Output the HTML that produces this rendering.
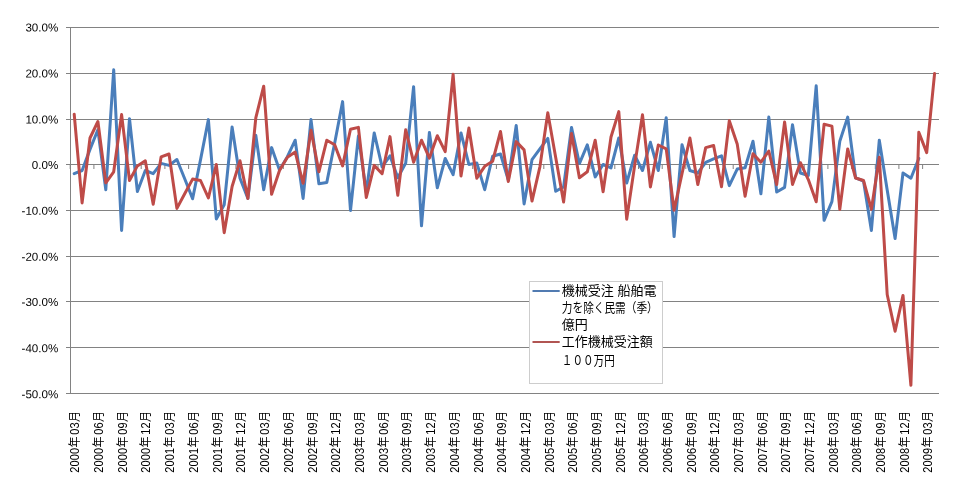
<!DOCTYPE html>
<html><head><meta charset="utf-8"><title>chart</title>
<style>
html,body{margin:0;padding:0;background:#fff;}
body{width:972px;height:502px;overflow:hidden;font-family:"Liberation Sans",sans-serif;}
svg{display:block;will-change:transform;}
.yl{font-family:"Liberation Sans",sans-serif;font-size:11.6px;fill:#000;text-anchor:end;}
.xl{font-family:"Liberation Sans","Noto Sans CJK JP",sans-serif;font-size:12px;fill:#000;}
.lg{font-family:"Liberation Sans","Noto Sans CJK JP",sans-serif;font-size:13px;fill:#000;}
</style></head><body>
<svg width="972" height="502" viewBox="0 0 972 502">
<rect width="972" height="502" fill="#fff"/>

<g fill="#828282">
<rect x="66" y="27" width="873" height="1"/>
<rect x="66" y="73" width="873" height="1"/>
<rect x="66" y="119" width="873" height="1"/>
<rect x="66" y="164" width="873" height="1"/>
<rect x="66" y="210" width="873" height="1"/>
<rect x="66" y="256" width="873" height="1"/>
<rect x="66" y="301" width="873" height="1"/>
<rect x="66" y="347" width="873" height="1"/>
<rect x="66" y="393" width="873" height="1"/>
<rect x="70" y="27" width="1" height="367"/>
<rect x="69.7" y="165" width="1" height="4"/>
<rect x="93.4" y="165" width="1" height="4"/>
<rect x="117.1" y="165" width="1" height="4"/>
<rect x="140.7" y="165" width="1" height="4"/>
<rect x="164.4" y="165" width="1" height="4"/>
<rect x="188.1" y="165" width="1" height="4"/>
<rect x="211.8" y="165" width="1" height="4"/>
<rect x="235.4" y="165" width="1" height="4"/>
<rect x="259.1" y="165" width="1" height="4"/>
<rect x="282.8" y="165" width="1" height="4"/>
<rect x="306.5" y="165" width="1" height="4"/>
<rect x="330.2" y="165" width="1" height="4"/>
<rect x="353.8" y="165" width="1" height="4"/>
<rect x="377.5" y="165" width="1" height="4"/>
<rect x="401.2" y="165" width="1" height="4"/>
<rect x="424.9" y="165" width="1" height="4"/>
<rect x="448.6" y="165" width="1" height="4"/>
<rect x="472.2" y="165" width="1" height="4"/>
<rect x="495.9" y="165" width="1" height="4"/>
<rect x="519.6" y="165" width="1" height="4"/>
<rect x="543.3" y="165" width="1" height="4"/>
<rect x="566.9" y="165" width="1" height="4"/>
<rect x="590.6" y="165" width="1" height="4"/>
<rect x="614.3" y="165" width="1" height="4"/>
<rect x="638.0" y="165" width="1" height="4"/>
<rect x="661.7" y="165" width="1" height="4"/>
<rect x="685.3" y="165" width="1" height="4"/>
<rect x="709.0" y="165" width="1" height="4"/>
<rect x="732.7" y="165" width="1" height="4"/>
<rect x="756.4" y="165" width="1" height="4"/>
<rect x="780.0" y="165" width="1" height="4"/>
<rect x="803.7" y="165" width="1" height="4"/>
<rect x="827.4" y="165" width="1" height="4"/>
<rect x="851.1" y="165" width="1" height="4"/>
<rect x="874.8" y="165" width="1" height="4"/>
<rect x="898.4" y="165" width="1" height="4"/>
<rect x="922.1" y="165" width="1" height="4"/>
</g>
<polyline fill="none" stroke="#4a7ebb" stroke-width="3" stroke-linejoin="round" stroke-linecap="round" points="74.2,173.7 82.1,170.5 90.0,149.4 97.9,129.7 105.8,189.7 113.7,69.8 121.6,230.4 129.5,118.7 137.4,191.5 145.3,170.5 153.2,173.7 161.1,163.4 169.0,165.4 176.9,159.5 184.7,178.7 192.6,198.8 200.5,159.9 208.4,119.6 216.3,219.0 224.2,204.8 232.1,127.0 240.0,178.2 247.9,198.4 255.8,135.2 263.7,189.7 271.6,147.6 279.5,170.0 287.4,156.7 295.2,140.2 303.1,198.4 311.0,119.6 318.9,183.7 326.8,182.4 334.7,143.0 342.6,101.6 350.5,210.5 358.4,136.1 366.3,192.0 374.2,132.9 382.1,166.8 390.0,155.8 397.8,177.8 405.7,163.1 413.6,86.7 421.5,225.8 429.4,132.5 437.3,187.8 445.2,158.5 453.1,174.6 461.0,132.9 468.9,164.5 476.8,162.9 484.7,189.7 492.6,156.3 500.5,154.0 508.3,180.1 516.2,125.4 524.1,203.9 532.0,159.7 539.9,148.9 547.8,138.4 555.7,191.3 563.6,186.9 571.5,127.4 579.4,163.6 587.3,144.8 595.2,176.9 603.1,164.5 611.0,167.9 618.8,138.0 626.7,183.0 634.6,155.3 642.5,170.5 650.4,142.3 658.3,170.5 666.2,117.8 674.1,236.6 682.0,144.8 689.9,170.5 697.8,173.0 705.7,162.4 713.6,158.8 721.5,155.8 729.3,185.6 737.2,169.1 745.1,167.7 753.0,141.2 760.9,193.8 768.8,117.1 776.7,192.0 784.6,187.4 792.5,124.7 800.4,173.0 808.3,175.5 816.2,85.8 824.1,220.3 831.9,201.6 839.8,141.2 847.7,117.1 855.6,177.8 863.5,181.0 871.4,230.4 879.3,140.2 887.2,190.1 895.1,238.6 903.0,173.0 910.9,178.2 918.8,158.5"/>
<polyline fill="none" stroke="#be4b48" stroke-width="3" stroke-linejoin="round" stroke-linecap="round" points="74.2,114.2 82.1,202.9 90.0,138.0 97.9,121.5 105.8,182.8 113.7,171.8 121.6,114.6 129.5,180.5 137.4,165.9 145.3,160.8 153.2,204.3 161.1,156.9 169.0,154.0 176.9,208.4 184.7,193.8 192.6,179.1 200.5,180.5 208.4,197.9 216.3,164.5 224.2,232.7 232.1,186.5 240.0,160.8 247.9,198.4 255.8,117.8 263.7,86.2 271.6,194.3 279.5,170.5 287.4,157.2 295.2,152.1 303.1,183.3 311.0,130.2 318.9,171.8 326.8,140.2 334.7,144.8 342.6,165.9 350.5,129.3 358.4,127.4 366.3,197.5 374.2,165.4 382.1,173.7 390.0,136.6 397.8,195.2 405.7,129.7 413.6,162.2 421.5,140.2 429.4,158.1 437.3,135.7 445.2,151.7 453.1,74.3 461.0,175.9 468.9,127.9 476.8,178.2 484.7,166.3 492.6,161.3 500.5,131.5 508.3,181.4 516.2,141.6 524.1,149.9 532.0,201.1 539.9,166.8 547.8,112.8 555.7,157.6 563.6,202.0 571.5,133.6 579.4,177.8 587.3,171.8 595.2,140.2 603.1,191.7 611.0,137.0 618.8,111.6 626.7,219.2 634.6,165.9 642.5,114.8 650.4,186.9 658.3,145.0 666.2,148.9 674.1,210.3 682.0,173.7 689.9,138.0 697.8,184.6 705.7,147.6 713.6,145.5 721.5,186.7 729.3,120.8 737.2,143.9 745.1,196.3 753.0,153.7 760.9,162.2 768.8,151.0 776.7,184.6 784.6,121.9 792.5,184.4 800.4,162.7 808.3,179.6 816.2,201.8 824.1,124.2 831.9,126.1 839.8,209.4 847.7,148.9 855.6,178.0 863.5,180.5 871.4,209.4 879.3,157.2 887.2,294.5 895.1,331.3 903.0,295.4 910.9,385.3 918.8,132.2 926.7,152.6 934.6,73.4"/>
<text class="yl" transform="matrix(1 0.0005 0 1 0 0)" x="58.3" y="31.6">30.0%</text>
<text class="yl" transform="matrix(1 0.0005 0 1 0 0)" x="58.3" y="77.6">20.0%</text>
<text class="yl" transform="matrix(1 0.0005 0 1 0 0)" x="58.3" y="123.6">10.0%</text>
<text class="yl" transform="matrix(1 0.0005 0 1 0 0)" x="58.3" y="169.1">0.0%</text>
<text class="yl" transform="matrix(1 0.0005 0 1 0 0)" x="58.3" y="214.7">-10.0%</text>
<text class="yl" transform="matrix(1 0.0005 0 1 0 0)" x="58.3" y="260.8">-20.0%</text>
<text class="yl" transform="matrix(1 0.0005 0 1 0 0)" x="58.3" y="306.1">-30.0%</text>
<text class="yl" transform="matrix(1 0.0005 0 1 0 0)" x="58.3" y="352.2">-40.0%</text>
<text class="yl" transform="matrix(1 0.0005 0 1 0 0)" x="58.3" y="398.3">-50.0%</text>
<g fill="#000">
<g transform="translate(79.15,473.0) rotate(-90)">
<title>2000年03月</title>
<text class="xl" transform="scale(0.92,1)" x="0.33 7.12 13.91 20.71 27.8 41.63 48.42 55.4" y="0">2000年03月</text>
</g>
<g transform="translate(102.88,473.0) rotate(-90)">
<title>2000年06月</title>
<text class="xl" transform="scale(0.92,1)" x="0.33 7.12 13.91 20.71 27.8 41.63 48.42 55.4" y="0">2000年06月</text>
</g>
<g transform="translate(126.62,473.0) rotate(-90)">
<title>2000年09月</title>
<text class="xl" transform="scale(0.92,1)" x="0.33 7.12 13.91 20.71 27.8 41.63 48.42 55.4" y="0">2000年09月</text>
</g>
<g transform="translate(150.36,473.0) rotate(-90)">
<title>2000年12月</title>
<text class="xl" transform="scale(0.92,1)" x="0.33 7.12 13.91 20.71 27.8 41.63 48.42 55.4" y="0">2000年12月</text>
</g>
<g transform="translate(174.10,473.0) rotate(-90)">
<title>2001年03月</title>
<text class="xl" transform="scale(0.92,1)" x="0.33 7.12 13.91 20.71 27.8 41.63 48.42 55.4" y="0">2001年03月</text>
</g>
<g transform="translate(197.84,473.0) rotate(-90)">
<title>2001年06月</title>
<text class="xl" transform="scale(0.92,1)" x="0.33 7.12 13.91 20.71 27.8 41.63 48.42 55.4" y="0">2001年06月</text>
</g>
<g transform="translate(221.58,473.0) rotate(-90)">
<title>2001年09月</title>
<text class="xl" transform="scale(0.92,1)" x="0.33 7.12 13.91 20.71 27.8 41.63 48.42 55.4" y="0">2001年09月</text>
</g>
<g transform="translate(245.31,473.0) rotate(-90)">
<title>2001年12月</title>
<text class="xl" transform="scale(0.92,1)" x="0.33 7.12 13.91 20.71 27.8 41.63 48.42 55.4" y="0">2001年12月</text>
</g>
<g transform="translate(269.05,473.0) rotate(-90)">
<title>2002年03月</title>
<text class="xl" transform="scale(0.92,1)" x="0.33 7.12 13.91 20.71 27.8 41.63 48.42 55.4" y="0">2002年03月</text>
</g>
<g transform="translate(292.79,473.0) rotate(-90)">
<title>2002年06月</title>
<text class="xl" transform="scale(0.92,1)" x="0.33 7.12 13.91 20.71 27.8 41.63 48.42 55.4" y="0">2002年06月</text>
</g>
<g transform="translate(316.53,473.0) rotate(-90)">
<title>2002年09月</title>
<text class="xl" transform="scale(0.92,1)" x="0.33 7.12 13.91 20.71 27.8 41.63 48.42 55.4" y="0">2002年09月</text>
</g>
<g transform="translate(340.27,473.0) rotate(-90)">
<title>2002年12月</title>
<text class="xl" transform="scale(0.92,1)" x="0.33 7.12 13.91 20.71 27.8 41.63 48.42 55.4" y="0">2002年12月</text>
</g>
<g transform="translate(364.00,473.0) rotate(-90)">
<title>2003年03月</title>
<text class="xl" transform="scale(0.92,1)" x="0.33 7.12 13.91 20.71 27.8 41.63 48.42 55.4" y="0">2003年03月</text>
</g>
<g transform="translate(387.74,473.0) rotate(-90)">
<title>2003年06月</title>
<text class="xl" transform="scale(0.92,1)" x="0.33 7.12 13.91 20.71 27.8 41.63 48.42 55.4" y="0">2003年06月</text>
</g>
<g transform="translate(411.48,473.0) rotate(-90)">
<title>2003年09月</title>
<text class="xl" transform="scale(0.92,1)" x="0.33 7.12 13.91 20.71 27.8 41.63 48.42 55.4" y="0">2003年09月</text>
</g>
<g transform="translate(435.22,473.0) rotate(-90)">
<title>2003年12月</title>
<text class="xl" transform="scale(0.92,1)" x="0.33 7.12 13.91 20.71 27.8 41.63 48.42 55.4" y="0">2003年12月</text>
</g>
<g transform="translate(458.90,473.0) rotate(-90)">
<title>2004年03月</title>
<text class="xl" transform="scale(0.92,1)" x="0.33 7.12 13.91 20.71 27.8 41.63 48.42 55.4" y="0">2004年03月</text>
</g>
<g transform="translate(482.58,473.0) rotate(-90)">
<title>2004年06月</title>
<text class="xl" transform="scale(0.92,1)" x="0.33 7.12 13.91 20.71 27.8 41.63 48.42 55.4" y="0">2004年06月</text>
</g>
<g transform="translate(506.25,473.0) rotate(-90)">
<title>2004年09月</title>
<text class="xl" transform="scale(0.92,1)" x="0.33 7.12 13.91 20.71 27.8 41.63 48.42 55.4" y="0">2004年09月</text>
</g>
<g transform="translate(529.93,473.0) rotate(-90)">
<title>2004年12月</title>
<text class="xl" transform="scale(0.92,1)" x="0.33 7.12 13.91 20.71 27.8 41.63 48.42 55.4" y="0">2004年12月</text>
</g>
<g transform="translate(553.61,473.0) rotate(-90)">
<title>2005年03月</title>
<text class="xl" transform="scale(0.92,1)" x="0.33 7.12 13.91 20.71 27.8 41.63 48.42 55.4" y="0">2005年03月</text>
</g>
<g transform="translate(577.29,473.0) rotate(-90)">
<title>2005年06月</title>
<text class="xl" transform="scale(0.92,1)" x="0.33 7.12 13.91 20.71 27.8 41.63 48.42 55.4" y="0">2005年06月</text>
</g>
<g transform="translate(600.97,473.0) rotate(-90)">
<title>2005年09月</title>
<text class="xl" transform="scale(0.92,1)" x="0.33 7.12 13.91 20.71 27.8 41.63 48.42 55.4" y="0">2005年09月</text>
</g>
<g transform="translate(624.64,473.0) rotate(-90)">
<title>2005年12月</title>
<text class="xl" transform="scale(0.92,1)" x="0.33 7.12 13.91 20.71 27.8 41.63 48.42 55.4" y="0">2005年12月</text>
</g>
<g transform="translate(648.32,473.0) rotate(-90)">
<title>2006年03月</title>
<text class="xl" transform="scale(0.92,1)" x="0.33 7.12 13.91 20.71 27.8 41.63 48.42 55.4" y="0">2006年03月</text>
</g>
<g transform="translate(672.00,473.0) rotate(-90)">
<title>2006年06月</title>
<text class="xl" transform="scale(0.92,1)" x="0.33 7.12 13.91 20.71 27.8 41.63 48.42 55.4" y="0">2006年06月</text>
</g>
<g transform="translate(695.68,473.0) rotate(-90)">
<title>2006年09月</title>
<text class="xl" transform="scale(0.92,1)" x="0.33 7.12 13.91 20.71 27.8 41.63 48.42 55.4" y="0">2006年09月</text>
</g>
<g transform="translate(719.36,473.0) rotate(-90)">
<title>2006年12月</title>
<text class="xl" transform="scale(0.92,1)" x="0.33 7.12 13.91 20.71 27.8 41.63 48.42 55.4" y="0">2006年12月</text>
</g>
<g transform="translate(743.04,473.0) rotate(-90)">
<title>2007年03月</title>
<text class="xl" transform="scale(0.92,1)" x="0.33 7.12 13.91 20.71 27.8 41.63 48.42 55.4" y="0">2007年03月</text>
</g>
<g transform="translate(766.71,473.0) rotate(-90)">
<title>2007年06月</title>
<text class="xl" transform="scale(0.92,1)" x="0.33 7.12 13.91 20.71 27.8 41.63 48.42 55.4" y="0">2007年06月</text>
</g>
<g transform="translate(790.39,473.0) rotate(-90)">
<title>2007年09月</title>
<text class="xl" transform="scale(0.92,1)" x="0.33 7.12 13.91 20.71 27.8 41.63 48.42 55.4" y="0">2007年09月</text>
</g>
<g transform="translate(814.07,473.0) rotate(-90)">
<title>2007年12月</title>
<text class="xl" transform="scale(0.92,1)" x="0.33 7.12 13.91 20.71 27.8 41.63 48.42 55.4" y="0">2007年12月</text>
</g>
<g transform="translate(837.75,473.0) rotate(-90)">
<title>2008年03月</title>
<text class="xl" transform="scale(0.92,1)" x="0.33 7.12 13.91 20.71 27.8 41.63 48.42 55.4" y="0">2008年03月</text>
</g>
<g transform="translate(861.43,473.0) rotate(-90)">
<title>2008年06月</title>
<text class="xl" transform="scale(0.92,1)" x="0.33 7.12 13.91 20.71 27.8 41.63 48.42 55.4" y="0">2008年06月</text>
</g>
<g transform="translate(885.10,473.0) rotate(-90)">
<title>2008年09月</title>
<text class="xl" transform="scale(0.92,1)" x="0.33 7.12 13.91 20.71 27.8 41.63 48.42 55.4" y="0">2008年09月</text>
</g>
<g transform="translate(908.78,473.0) rotate(-90)">
<title>2008年12月</title>
<text class="xl" transform="scale(0.92,1)" x="0.33 7.12 13.91 20.71 27.8 41.63 48.42 55.4" y="0">2008年12月</text>
</g>
<g transform="translate(932.46,473.0) rotate(-90)">
<title>2009年03月</title>
<text class="xl" transform="scale(0.92,1)" x="0.33 7.12 13.91 20.71 27.8 41.63 48.42 55.4" y="0">2009年03月</text>
</g>
</g>
<rect x="529.5" y="281.5" width="133" height="102" fill="#fff" stroke="#cdcdcd" stroke-width="1"/>
<line x1="532.5" y1="291" x2="559.7" y2="291" stroke="#4874ad" stroke-width="1.9"/>
<line x1="532.5" y1="342" x2="559.7" y2="342" stroke="#ad4c49" stroke-width="1.9"/>
<g fill="#000">
<text class="lg" x="561.8" y="295.2">機械受注 船舶電</text>
<text class="lg" x="561.8" y="312.2" textLength="96" lengthAdjust="spacingAndGlyphs">力を除く民需（季）</text>
<text class="lg" x="561.8" y="329.3">億円</text>
<text class="lg" x="561.8" y="345.5">工作機械受注額</text>
<text class="lg" x="561.8" y="364.9" textLength="53" lengthAdjust="spacingAndGlyphs">１００万円</text>
</g>
</svg></body></html>
